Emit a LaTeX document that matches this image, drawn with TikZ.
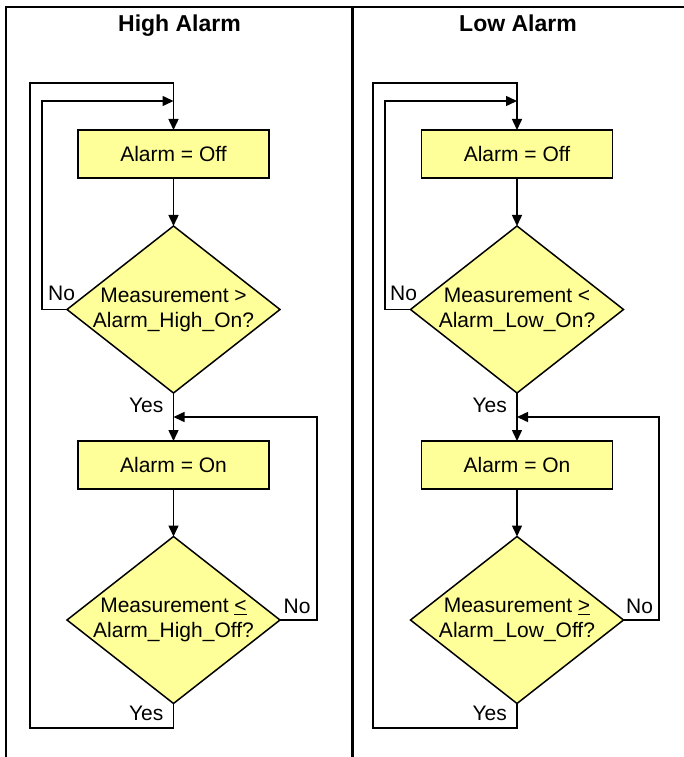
\documentclass[tikz,border=0pt]{standalone}
\usepackage{fontspec}
\setmainfont{Liberation Sans}
\usetikzlibrary{arrows.meta,shapes.geometric}
\definecolor{boxyellow}{RGB}{255,255,153}
\tikzset{
  frame/.style={line width=2.5pt},
  conn/.style={line width=1.5pt},
  arr/.style={conn,-{Triangle[length=11pt,width=10pt]}},
  procbox/.style={draw,line width=1.5pt,fill=boxyellow,minimum width=191pt,minimum height=48pt,inner sep=0pt,outer sep=0pt,font=\fontsize{21}{25}\selectfont},
  decision/.style={draw,line width=1.5pt,fill=boxyellow,shape=diamond,minimum width=213pt,minimum height=167pt,inner sep=0pt,outer sep=0pt},
  dtext/.style={align=center,inner sep=0pt,font=\fontsize{21}{25}\selectfont},
  lbl/.style={inner sep=0pt,font=\fontsize{21}{25}\selectfont},
  head/.style={inner sep=0pt,font=\fontsize{23}{27}\selectfont\bfseries,anchor=base}
}
\begin{document}
\begin{tikzpicture}[x=1pt,y=-1pt]
\useasboundingbox (0,0) rectangle (684,757);
% frame
\coordinate (tl) at (6,7);
\coordinate (tr) at (684,7);
\coordinate (bl) at (6,757);
\coordinate (tm) at (352.5,7);
\coordinate (bm) at (352.5,757);
\draw[frame] (bl) -- (tl) -- (tr);
\draw[frame] (tm) -- (bm);
\node[head] (h1) at (179.5,32) {High Alarm};
\node[head] (h2) at (518,32) {Low Alarm};

% ---------- High Alarm ----------
\node[procbox] (b1) at (173.5,154) {Alarm = Off};
\node[decision] (d1) at (173.5,309.5) {};
\node[dtext] (t1) at (d1) {Measurement >\\Alarm\_High\_On?};
\node[procbox] (b2) at (173.5,465) {Alarm = On};
\node[decision] (d2) at (173.5,620) {};
\node[dtext] (t2) at (d2) {Measurement \underline{<}\\Alarm\_High\_Off?};
\coordinate (m1) at (173.5,101);
\coordinate (m2) at (173.5,417);
\coordinate (n1) at (42,309.5);
\coordinate (n2) at (317,620);
\coordinate (o1) at (30,728);
\coordinate (o2) at (30,83);

\draw[arr] (b1) -- (d1);
\draw[arr] (d1) -- (b2);
\draw[arr] (b2) -- (d2);
\draw[arr] (d1.west) -- (n1) |- (m1);
\draw[arr] (d2.east) -- (n2) |- (m2);
\draw[arr] (d2.south) |- (o1) -- (o2) -| (b1.north);

\node[lbl,anchor=base west] (no1) at (48,300) {No};
\node[lbl,anchor=base east] (yes1) at (163.5,412) {Yes};
\node[lbl,anchor=base west] (no2) at (283.5,613) {No};
\node[lbl,anchor=base east] (yes2) at (163.5,720) {Yes};

% ---------- Low Alarm ----------
\node[procbox] (b3) at (517,154) {Alarm = Off};
\node[decision] (d3) at (517,309.5) {};
\node[dtext] (t3) at (d3) {Measurement <\\Alarm\_Low\_On?};
\node[procbox] (b4) at (517,465) {Alarm = On};
\node[decision] (d4) at (517,620) {};
\node[dtext] (t4) at (d4) {Measurement \underline{>}\\Alarm\_Low\_Off?};
\coordinate (m3) at (517,101);
\coordinate (m4) at (517,417);
\coordinate (n3) at (385,309.5);
\coordinate (n4) at (659,620);
\coordinate (o3) at (373,728);
\coordinate (o4) at (373,83);

\draw[arr] (b3) -- (d3);
\draw[arr] (d3) -- (b4);
\draw[arr] (b4) -- (d4);
\draw[arr] (d3.west) -- (n3) |- (m3);
\draw[arr] (d4.east) -- (n4) |- (m4);
\draw[arr] (d4.south) |- (o3) -- (o4) -| (b3.north);

\node[lbl,anchor=base west] (no3) at (390,300) {No};
\node[lbl,anchor=base east] (yes3) at (507,412) {Yes};
\node[lbl,anchor=base west] (no4) at (626,613) {No};
\node[lbl,anchor=base east] (yes4) at (507,720) {Yes};
\end{tikzpicture}
\end{document}
